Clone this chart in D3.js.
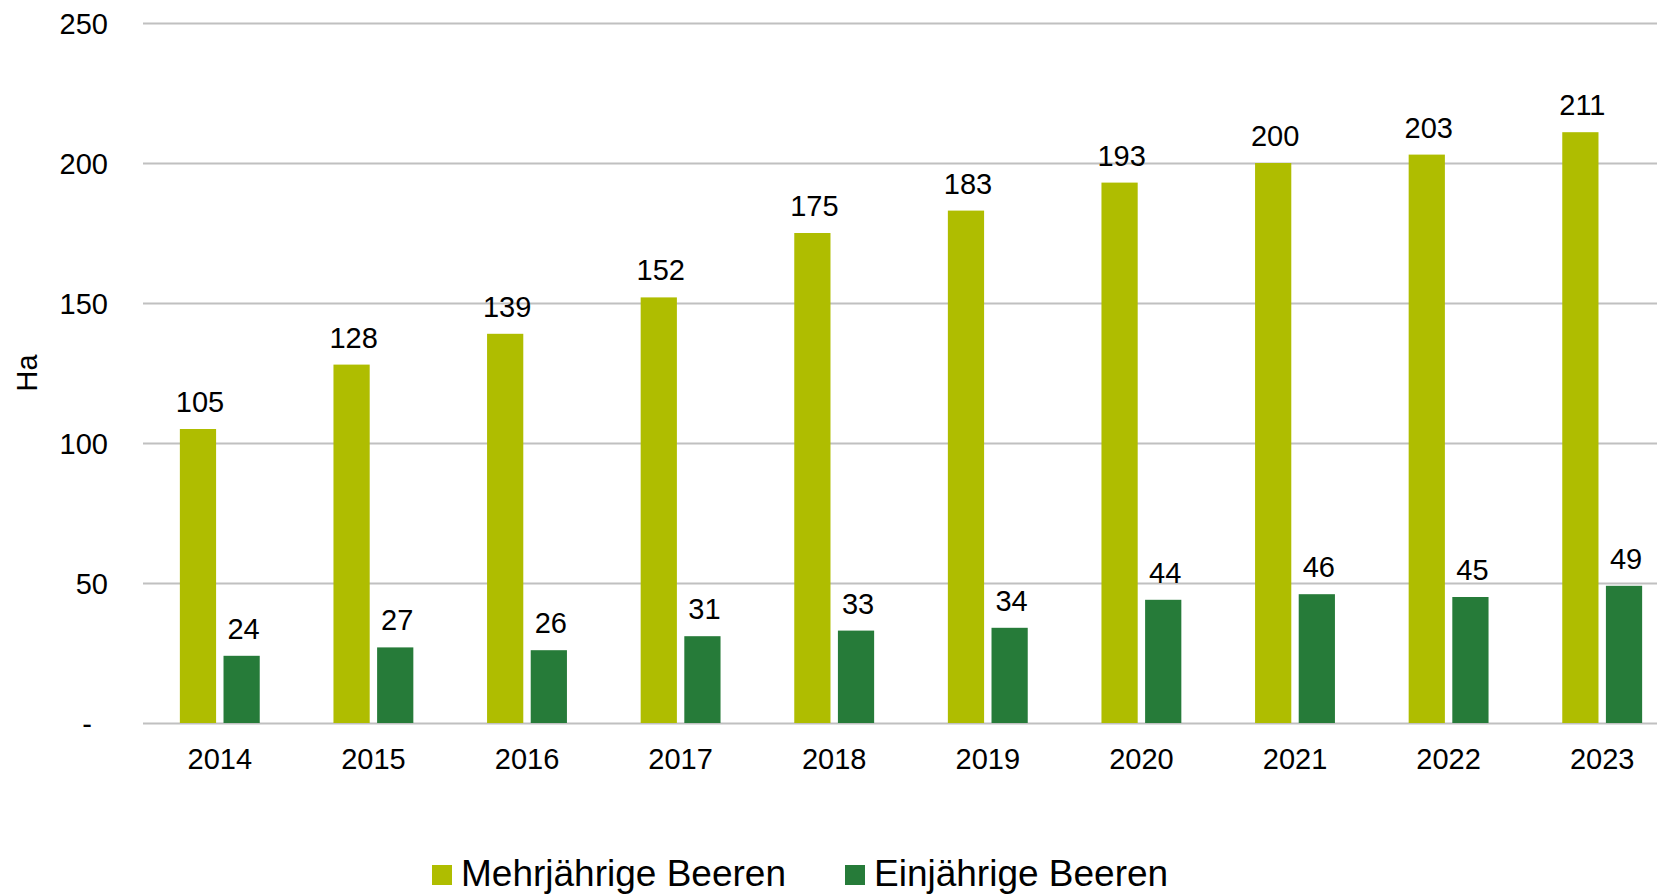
<!DOCTYPE html>
<html>
<head>
<meta charset="utf-8">
<script src="https://cdn.jsdelivr.net/npm/d3@7"></script>
<style>
  body { margin: 0; background: #fff; overflow: hidden; }
  text { font-family: "Liberation Sans", Arial, sans-serif; fill: #000; }
</style>
</head>
<body>
<div id="chart"></div>
<script>
// data
const years = ["2014", "2015", "2016", "2017", "2018", "2019", "2020", "2021", "2022", "2023"];
const mehrjaehrig = [105, 128, 139, 152, 175, 183, 193, 200, 203, 211];
const einjaehrig = [24, 27, 26, 31, 33, 34, 44, 46, 45, 49];
const seriesNames = ["Mehrjährige Beeren", "Einjährige Beeren"];
const seriesColors = ["#afbd00", "#267b39"];
const yTicks = [0, 50, 100, 150, 200, 250];

const width = 1657, height = 894;

let svg = d3.select("#chart").append("svg")
  .attr("width", width)
  .attr("height", height);

// plot area runs a bit past the right edge, like the original
let xScale = d3.scaleBand()
  .domain(years)
  .range([143, 1679])
  .paddingInner(0.48)
  .paddingOuter(0.24);

let inner = d3.scaleBand()
  .domain([0, 1])
  .range([0, xScale.bandwidth()])
  .paddingInner(0.17);

let yScale = d3.scaleLinear()
  .domain([0, 250])
  .range([723, 23]);

// gridlines + y labels
let yAxis = d3.axisLeft(yScale)
  .tickValues(yTicks)
  .tickSize(-(1679 - 143))
  .tickPadding(35)
  .tickFormat(d => d === 0 ? "-" : d);

let yAxisG = svg.append("g")
  .attr("transform", "translate(143,0)")
  .call(yAxis);

yAxisG.select(".domain").remove();
yAxisG.selectAll(".tick line")
  .attr("stroke", "#c0c0c0")
  .attr("stroke-width", 2);
yAxisG.selectAll(".tick text")
  .style("font-size", "29px")
  .attr("dy", "0.35em")
  .attr("dx", d => d === 0 ? -16 : 0);

// x labels
let xAxis = d3.axisBottom(xScale).tickSize(0).tickPadding(25);
let xAxisG = svg.append("g")
  .attr("transform", "translate(0,723)")
  .call(xAxis);
xAxisG.select(".domain").remove();
xAxisG.selectAll(".tick text")
  .style("font-size", "29px");

// bars
let seriesData = [mehrjaehrig, einjaehrig];

seriesData.forEach(function(values, s) {
  let g = svg.append("g");

  g.selectAll("rect").data(values)
    .enter()
    .append("rect")
    .attr("x", (d, i) => xScale(years[i]) + inner(s))
    .attr("y", d => yScale(d))
    .attr("width", inner.bandwidth())
    .attr("height", d => yScale(0) - yScale(d))
    .attr("fill", seriesColors[s]);

  g.selectAll("text").data(values)
    .enter()
    .append("text")
    .attr("x", (d, i) => xScale(years[i]) + inner(s) + inner.bandwidth() / 2 + 2)
    .attr("y", d => yScale(d) - 17)
    .attr("text-anchor", "middle")
    .style("font-size", "29px")
    .text(d => d);
});

// y axis title
svg.append("text")
  .attr("transform", "translate(37,373) rotate(-90)")
  .attr("text-anchor", "middle")
  .style("font-size", "29px")
  .text("Ha");

// legend
let legendX = [432, 845];
seriesNames.forEach(function(name, i) {
  svg.append("rect")
    .attr("x", legendX[i])
    .attr("y", 865)
    .attr("width", 20)
    .attr("height", 20)
    .attr("fill", seriesColors[i]);

  svg.append("text")
    .attr("x", legendX[i] + 29)
    .attr("y", 886)
    .style("font-size", "37px")
    .text(name);
});
</script>
</body>
</html>
